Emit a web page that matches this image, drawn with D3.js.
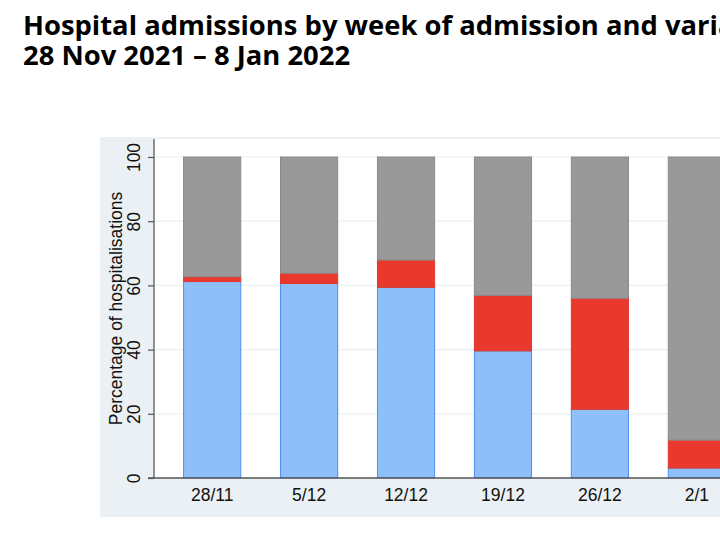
<!DOCTYPE html>
<html>
<head>
<meta charset="utf-8">
<script src="https://cdn.jsdelivr.net/npm/d3@7"></script>
<style>
  html, body { margin: 0; padding: 0; background: #fff; overflow: hidden; }
  svg { display: block; }
</style>
</head>
<body>
<svg id="chart" width="720" height="540"></svg>
<script>
// Data (percentage of hospitalisations per week of admission)
const weeks = ["28/11", "5/12", "12/12", "19/12", "26/12", "2/1"];
const blueValues = [61.2, 60.6, 59.4, 39.6, 21.4, 3.1];
const redValues  = [1.5, 3.2, 8.5, 17.3, 34.6, 8.7];
const greyValues = [37.3, 36.2, 32.1, 43.1, 44.0, 88.2];
const yTicks = [0, 20, 40, 60, 80, 100];
const titleLines = [
  "Hospital admissions by week of admission and variant,",
  "28 Nov 2021 \u2013 8 Jan 2022"
];
const yTitle = "Percentage of hospitalisations";

const seriesKeys = ["blue", "red", "grey"];
const colors = {
  blue: { fill: "#8fbff9", stroke: "#4d8ff0" },
  red:  { fill: "#e9392f", stroke: "#e0392f" },
  grey: { fill: "#999999", stroke: "#8a8a8a" }
};

const table = weeks.map((w, i) => ({ week: w, blue: blueValues[i], red: redValues[i], grey: greyValues[i] }));

const svg = d3.select("#chart");

// Title
svg.append("g").selectAll("text").data(titleLines).join("text")
  .attr("x", 23)
  .attr("y", (d, i) => 35 + i * 30)
  .attr("font-family", "'Open Sans', sans-serif")
  .attr("font-weight", 700)
  .attr("font-size", 27.4)
  .attr("fill", "#000")
  .text(d => d);

// Graph region background
const gx0 = 100, gy0 = 137, gy1 = 517;
svg.append("rect").attr("x", gx0).attr("y", gy0).attr("width", 800).attr("height", gy1 - gy0).attr("fill", "#eaf0f3");

const plotLeft = 154, plotTop = 139, plotRight = 755, plotBottom = 478;
svg.append("rect").attr("x", plotLeft).attr("y", plotTop).attr("width", plotRight - plotLeft + 40).attr("height", plotBottom - plotTop).attr("fill", "#fff");

const y = d3.scaleLinear().domain([0, 100]).range([plotBottom, 157]);
const x = d3.scaleBand().domain(weeks).range([plotLeft, plotRight]).paddingInner(0.4).paddingOuter(0.3);

// Gridlines
svg.append("g").selectAll("line").data(yTicks.filter(t => t > 0)).join("line")
  .attr("x1", plotLeft).attr("x2", plotRight + 40)
  .attr("y1", d => y(d)).attr("y2", d => y(d))
  .attr("stroke", "#eaf0f2").attr("stroke-width", 1.2);

// Stacked bars
const stack = d3.stack().keys(seriesKeys)(table);
svg.append("g").selectAll("g").data(stack).join("g")
  .each(function(layer) {
    const c = colors[layer.key];
    d3.select(this).selectAll("rect").data(layer).join("rect")
      .attr("x", d => x(d.data.week) + 0.5)
      .attr("width", x.bandwidth() - 1)
      .attr("y", d => y(d[1]))
      .attr("height", d => y(d[0]) - y(d[1]))
      .attr("fill", c.fill)
      .attr("stroke", c.stroke)
      .attr("stroke-width", 1);
  });

// Y axis
const yAxis = svg.append("g").attr("transform", `translate(${plotLeft},0)`)
  .call(d3.axisLeft(y).tickValues(yTicks).tickSize(6).tickPadding(0));
yAxis.select(".domain").attr("stroke", "#555").attr("stroke-width", 1.3).attr("d", `M-0,${plotTop}V${plotBottom}`);
yAxis.selectAll(".tick line").attr("stroke", "#555").attr("stroke-width", 1.2);
yAxis.selectAll(".tick text")
  .attr("font-family", "'Liberation Sans', Arial, sans-serif")
  .attr("font-size", 17.5)
  .attr("fill", "#111")
  .attr("text-anchor", "middle")
  .attr("x", 0).attr("dy", 0)
  .attr("transform", "translate(-14,0) rotate(-90)");

// X axis
const xAxis = svg.append("g").attr("transform", `translate(0,${plotBottom})`)
  .call(d3.axisBottom(x).tickSize(0).tickPadding(11));
xAxis.select(".domain").attr("stroke", "#555").attr("stroke-width", 1.5).attr("d", `M${plotLeft - 6},0H${plotRight + 40}`);
xAxis.selectAll(".tick text")
  .attr("font-family", "'Liberation Sans', Arial, sans-serif")
  .attr("font-size", 17.5)
  .attr("fill", "#111");

// Y title
svg.append("text")
  .attr("transform", `translate(122,${(plotTop + plotBottom) / 2}) rotate(-90)`)
  .attr("text-anchor", "middle")
  .attr("font-family", "'Liberation Sans', Arial, sans-serif")
  .attr("font-size", 17.5)
  .attr("fill", "#111")
  .text(yTitle);
</script>
</body>
</html>
